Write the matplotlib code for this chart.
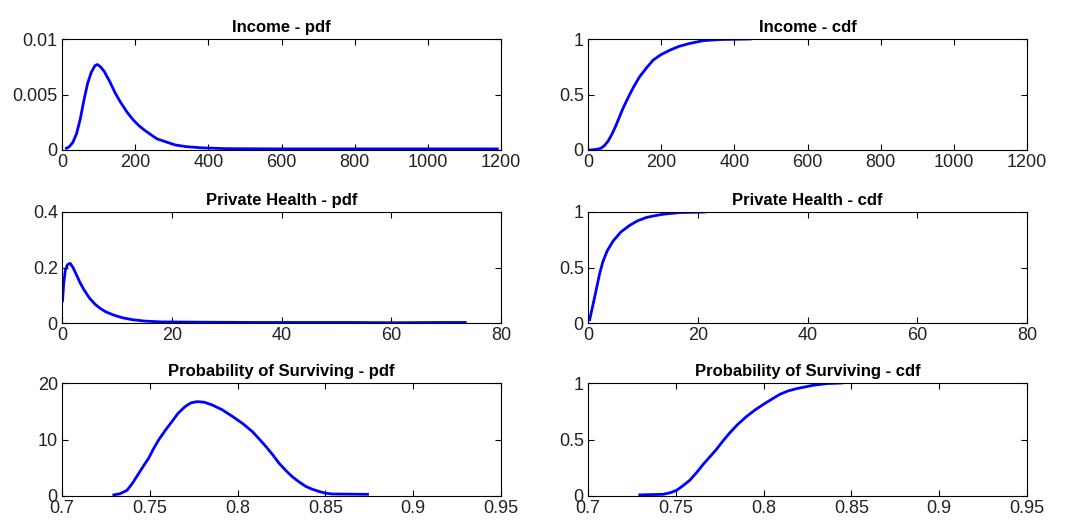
import numpy as np
import matplotlib
matplotlib.use('Agg')
import matplotlib.pyplot as plt

plt.rcParams['font.family'] = ['Liberation Sans', 'DejaVu Sans']

# Income
inc_pdf_x = [12, 20, 30, 40, 50, 60, 70, 80, 90, 97, 105, 115, 130, 146, 160, 178, 195, 210, 225, 242,
             260, 287, 310, 340, 380, 450, 600, 800, 1000, 1190]
inc_pdf_y = [0.00015, 0.0003, 0.0007, 0.0015, 0.0028, 0.0045, 0.006, 0.007, 0.0076, 0.0077, 0.0075,
             0.0071, 0.0062, 0.0051, 0.0043, 0.0034, 0.0027, 0.0022, 0.0018, 0.0014,
             0.001, 0.0007, 0.00045, 0.0003, 0.0002, 0.00012, 0.0001, 0.0001, 0.0001, 0.0001]
inc_cdf_x = [5, 23, 35, 45, 55, 65, 75, 85, 95, 105, 114, 125, 141, 160, 178, 200, 224, 250, 278, 315, 360, 443]
inc_cdf_y = [0.0, 0.005, 0.015, 0.04, 0.08, 0.14, 0.21, 0.29, 0.37, 0.44, 0.5, 0.57, 0.66, 0.74, 0.81,
             0.86, 0.90, 0.935, 0.96, 0.985, 0.995, 1.0]

# Private Health
ph_pdf_x = [0.1, 0.3, 0.6, 1.0, 1.5, 2.0, 2.6, 3.3, 4.0, 5, 6, 7, 8, 9.5, 11, 12.8, 15, 18, 25,
            35, 45, 52, 60, 70, 73.5]
ph_pdf_y = [0.08, 0.14, 0.19, 0.21, 0.215, 0.2, 0.175, 0.145, 0.12, 0.09, 0.068, 0.052, 0.04, 0.028,
            0.019, 0.012, 0.007, 0.004, 0.003, 0.002, 0.002, 0.002, 0.001, 0.002, 0.002]
ph_cdf_x = [0.3, 0.8, 1.5, 2.1, 2.7, 3.5, 4.6, 6, 7.6, 9, 10.6, 12, 13.7, 16.7, 21.3]
ph_cdf_y = [0.03, 0.14, 0.3, 0.44, 0.55, 0.65, 0.74, 0.82, 0.88, 0.92, 0.95, 0.965, 0.98, 0.995, 1.0]

# Probability of Surviving
ps_pdf_x = [0.7295, 0.733, 0.737, 0.740, 0.7437, 0.747, 0.7494, 0.752, 0.755, 0.759, 0.7627, 0.766,
            0.770, 0.7735, 0.777, 0.781, 0.7856, 0.791, 0.797, 0.803, 0.8084, 0.812, 0.816, 0.82,
            0.8236, 0.8275, 0.8312, 0.835, 0.8388, 0.8425, 0.8464, 0.85, 0.854, 0.874]
ps_pdf_y = [0.2, 0.4, 1.0, 2.2, 4.0, 5.6, 6.7, 8.3, 9.9, 11.7, 13.2, 14.6, 15.8, 16.5, 16.7, 16.6,
            16.1, 15.3, 14.1, 12.8, 11.4, 10.2, 8.8, 7.3, 5.8, 4.5, 3.4, 2.5, 1.7, 1.2, 0.8, 0.5,
            0.35, 0.3]
ps_cdf_x = [0.7295, 0.7428, 0.747, 0.7504, 0.754, 0.758, 0.762, 0.7656, 0.769, 0.773, 0.777, 0.7808,
            0.785, 0.790, 0.795, 0.7998, 0.805, 0.8093, 0.814, 0.8188, 0.8283, 0.836, 0.8445]
ps_cdf_y = [0.01, 0.015, 0.03, 0.05, 0.09, 0.14, 0.21, 0.28, 0.34, 0.41, 0.49, 0.56, 0.63, 0.70,
            0.76, 0.81, 0.86, 0.90, 0.93, 0.95, 0.98, 0.995, 1.0]

panels = [
    ('Income - pdf', inc_pdf_x, inc_pdf_y, (0, 1200), (0, 0.01), [0, 0.005, 0.01], ['0', '0.005', '0.01']),
    ('Income - cdf', inc_cdf_x, inc_cdf_y, (0, 1200), (0, 1), [0, 0.5, 1], ['0', '0.5', '1']),
    ('Private Health - pdf', ph_pdf_x, ph_pdf_y, (0, 80), (0, 0.4), [0, 0.2, 0.4], ['0', '0.2', '0.4']),
    ('Private Health - cdf', ph_cdf_x, ph_cdf_y, (0, 80), (0, 1), [0, 0.5, 1], ['0', '0.5', '1']),
    ('Probability of Surviving - pdf', ps_pdf_x, ps_pdf_y, (0.7, 0.95), (0, 20), [0, 10, 20], ['0', '10', '20']),
    ('Probability of Surviving - cdf', ps_cdf_x, ps_cdf_y, (0.7, 0.95), (0, 1), [0, 0.5, 1], ['0', '0.5', '1']),
]

xticks = {(0, 1200): np.arange(0, 1201, 200), (0, 80): np.arange(0, 81, 20),
          (0.7, 0.95): [0.7, 0.75, 0.8, 0.85, 0.9, 0.95]}

fig = plt.figure(figsize=(10.73, 5.25), dpi=100)
W, H = 1073, 525
lefts = [62, 588]
width = 439
rows = [(39, 150), (212, 323), (383, 496)]

for i, (title, x, y, xl, yl, yt, ytl) in enumerate(panels):
    r, c = divmod(i, 2)
    top, bot = rows[r]
    ax = fig.add_axes([lefts[c] / W, 1 - bot / H, width / W, (bot - top) / H])
    ax.plot(x, y, color='#0000ff', lw=2)
    ax.set_xlim(*xl)
    ax.set_ylim(*yl)
    xt = xticks[xl]
    ax.set_xticks(xt)
    ax.set_xticklabels([('%g' % v) for v in xt])
    ax.set_yticks(yt)
    ax.set_yticklabels(ytl)
    ax.tick_params(direction='in', top=True, right=True, length=4, labelsize=13, pad=3,
                   labelcolor='#222222')
    ax.set_title(title, fontsize=12, fontweight='bold', pad=5)
    for s in ax.spines.values():
        s.set_linewidth(0.8)

fig.savefig('out.png', dpi=100)
